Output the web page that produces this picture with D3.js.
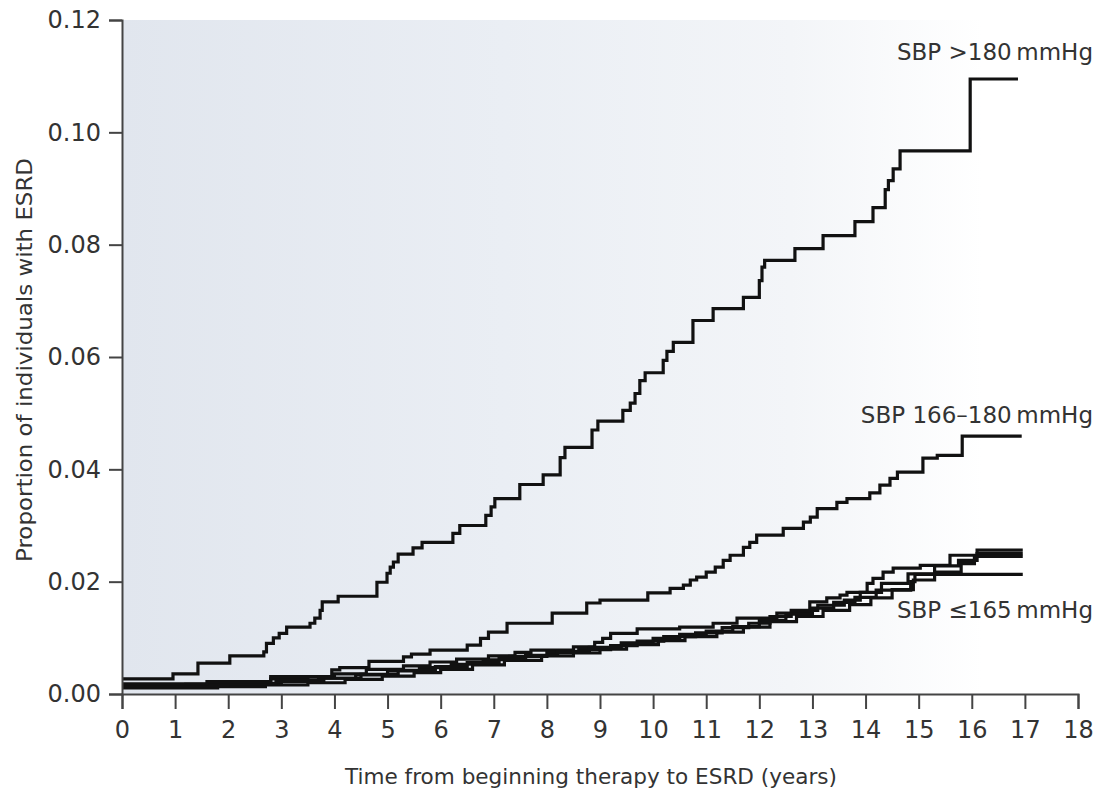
<!DOCTYPE html>
<html>
<head>
<meta charset="utf-8">
<script src="https://cdn.jsdelivr.net/npm/d3@7"></script>
<style>
  body { margin: 0; background: #fff; }
  text { font-family: "DejaVu Sans", sans-serif; fill: #333; }
</style>
</head>
<body>
<div id="chart"></div>
<script>
// step points [years, proportion]
var sbpOver180 = [[0,0.0027],[0.96,0.0036],[1.43,0.0055],[2.03,0.0068],[2.67,0.0075],[2.72,0.009],[2.85,0.010],[2.96,0.0108],[3.1,0.0119],[3.54,0.0126],[3.63,0.0135],[3.73,0.0149],[3.77,0.0164],[4.07,0.0174],[4.8,0.0199],[4.99,0.0215],[5.05,0.0226],[5.11,0.0235],[5.2,0.0249],[5.48,0.026],[5.65,0.027],[6.23,0.0286],[6.36,0.030],[6.85,0.0318],[6.95,0.0333],[7.02,0.0348],[7.49,0.0373],[7.93,0.039],[8.25,0.0421],[8.34,0.0439],[8.85,0.047],[8.96,0.0486],[9.43,0.0505],[9.57,0.0518],[9.66,0.0535],[9.75,0.0558],[9.85,0.0572],[10.19,0.0594],[10.26,0.061],[10.38,0.0626],[10.75,0.0665],[11.13,0.0686],[11.7,0.0706],[12.0,0.0736],[12.05,0.076],[12.1,0.0772],[12.67,0.0793],[13.2,0.0816],[13.8,0.0841],[14.14,0.0866],[14.37,0.0898],[14.43,0.0914],[14.52,0.0935],[14.65,0.0967],[15.97,0.1095],[16.87,0.1095]];

var sbp166to180 = [[0,0.0018],[1.6,0.0022],[2.8,0.0031],[3.95,0.0043],[4.1,0.0047],[4.65,0.0058],[5.3,0.0066],[5.45,0.0071],[5.8,0.0078],[6.5,0.0087],[6.75,0.0099],[6.9,0.011],[7.25,0.0126],[8.1,0.0144],[8.75,0.0162],[9.0,0.0167],[9.9,0.018],[10.32,0.0188],[10.57,0.0194],[10.7,0.0203],[10.82,0.0208],[11.0,0.0217],[11.17,0.0226],[11.32,0.0238],[11.45,0.0247],[11.7,0.0261],[11.82,0.027],[11.95,0.0283],[12.45,0.0295],[12.83,0.0306],[12.96,0.0315],[13.09,0.033],[13.46,0.0341],[13.65,0.0348],[14.08,0.0358],[14.27,0.0372],[14.46,0.0384],[14.6,0.0395],[15.08,0.042],[15.35,0.0425],[15.82,0.0459],[16.94,0.0459]];

var sbpUnder165a = [[0,0.0015],[1.2,0.0017],[2.0,0.0021],[2.8,0.0027],[3.5,0.003],[4.0,0.0036],[4.6,0.0044],[5.3,0.005],[5.8,0.0057],[6.3,0.0062],[6.9,0.0068],[7.4,0.0074],[7.7,0.0078],[8.5,0.0084],[8.9,0.0092],[9.05,0.0099],[9.2,0.0108],[9.7,0.0116],[10.5,0.0119],[11.13,0.0126],[11.58,0.0135],[12.33,0.0144],[12.95,0.0164],[13.27,0.0171],[13.52,0.0176],[13.65,0.0181],[14.03,0.0197],[14.14,0.0206],[14.33,0.0217],[14.52,0.0224],[15.03,0.0229],[15.59,0.0247],[16.1,0.0256],[16.96,0.0256]];

var sbpUnder165b = [[0,0.0013],[1.5,0.0015],[2.3,0.0019],[3.0,0.0024],[3.8,0.0028],[4.4,0.0034],[5.0,0.0041],[5.6,0.0047],[6.2,0.0053],[6.8,0.0061],[7.3,0.0067],[8.0,0.0074],[8.6,0.0079],[9.2,0.0086],[9.7,0.0094],[10.2,0.0102],[10.8,0.0109],[11.3,0.0118],[11.8,0.0126],[12.2,0.0138],[12.6,0.0149],[13.1,0.0158],[13.6,0.0167],[13.9,0.0181],[14.3,0.0197],[14.8,0.0214],[15.3,0.0228],[15.75,0.0238],[16.1,0.025],[16.96,0.025]];

var sbpUnder165c = [[0,0.0011],[1.8,0.0013],[2.7,0.0016],[3.5,0.002],[4.2,0.0026],[4.9,0.0032],[5.5,0.0038],[6.0,0.0044],[6.6,0.0052],[7.2,0.006],[7.9,0.0068],[8.5,0.0073],[9.0,0.008],[9.5,0.0088],[10.1,0.0095],[10.6,0.0102],[11.2,0.011],[11.7,0.0119],[12.2,0.0129],[12.7,0.0138],[13.2,0.0149],[13.7,0.0159],[14.1,0.0171],[14.5,0.0186],[14.9,0.0203],[15.3,0.0217],[15.8,0.0232],[16.05,0.0245],[16.96,0.0245]];

var sbpUnder165d = [[0,0.0014],[1.0,0.0015],[2.0,0.0018],[2.9,0.0022],[3.7,0.0028],[4.5,0.0035],[5.2,0.0042],[5.9,0.0049],[6.5,0.0056],[7.1,0.0063],[7.6,0.0069],[8.2,0.0076],[8.8,0.0083],[9.4,0.0091],[10.0,0.0099],[10.5,0.0106],[11.0,0.0112],[11.5,0.012],[12.0,0.0131],[12.5,0.0142],[13.0,0.0153],[13.4,0.0163],[13.8,0.0172],[14.2,0.0185],[14.85,0.02],[14.93,0.0213],[16.96,0.0213]];

var series = [sbpUnder165a, sbpUnder165b, sbpUnder165c, sbpUnder165d, sbp166to180, sbpOver180];

var xTicks = d3.range(0, 19);
var yTicks = [0, 0.02, 0.04, 0.06, 0.08, 0.10, 0.12];

var labels = [
  {text: "SBP >180\u2009mmHg", y: 0.1128},
  {text: "SBP 166\u2013180\u2009mmHg", y: 0.0482},
  {text: "SBP \u2264165\u2009mmHg", y: 0.0135}
];

var width = 1099,
    height = 792,
    margin = {top: 20, right: 21, bottom: 98, left: 122};

var svg = d3.select("#chart").append("svg")
    .attr("width", width)
    .attr("height", height);

var x = d3.scaleLinear().domain([0, 18]).range([margin.left, width - margin.right]);
var y = d3.scaleLinear().domain([0, 0.12]).range([height - margin.bottom, margin.top]);

// soft blue-grey wash fading to white on the right
var grad = svg.append("defs").append("linearGradient")
    .attr("id", "wash")
    .attr("x1", "0%").attr("x2", "100%").attr("y1", "0%").attr("y2", "0%");
grad.append("stop").attr("offset", "0%").attr("stop-color", "#e1e6ee");
grad.append("stop").attr("offset", "40%").attr("stop-color", "#eaeef4");
grad.append("stop").attr("offset", "70%").attr("stop-color", "#f3f5f8");
grad.append("stop").attr("offset", "90%").attr("stop-color", "#ffffff");

svg.append("rect")
    .attr("x", x(0))
    .attr("y", y(0.12))
    .attr("width", x(18) - x(0))
    .attr("height", y(0) - y(0.12))
    .attr("fill", "url(#wash)");

var line = d3.line()
    .x(function(d){ return x(d[0]) })
    .y(function(d){ return y(d[1]) })
    .curve(d3.curveStepAfter);

svg.selectAll("path.km")
    .data(series)
  .enter().append("path")
    .attr("class", "km")
    .attr("d", line)
    .attr("fill", "none")
    .attr("stroke", "#111")
    .attr("stroke-width", 3.2);

var xAxis = svg.append("g")
    .attr("transform", "translate(0," + y(0) + ")")
    .call(d3.axisBottom(x).tickValues(xTicks).tickFormat(d3.format("d")).tickSize(15).tickPadding(12));

var yAxis = svg.append("g")
    .attr("transform", "translate(" + x(0) + ",0)")
    .call(d3.axisLeft(y).tickValues(yTicks).tickFormat(d3.format(".2f")).tickSize(13).tickPadding(8));

[xAxis, yAxis].forEach(function(g){
  g.select(".domain").attr("stroke", "#444").attr("stroke-width", 2);
  g.selectAll(".tick line").attr("stroke", "#444").attr("stroke-width", 2);
  g.selectAll(".tick text").style("font-size", "24px").attr("fill", "#333");
});

svg.append("text")
    .attr("x", 591)
    .attr("y", 784)
    .attr("text-anchor", "middle")
    .attr("textLength", 492)
    .attr("lengthAdjust", "spacingAndGlyphs")
    .style("font-size", "21px")
    .text("Time from beginning therapy to ESRD (years)");

svg.append("text")
    .attr("transform", "translate(32,360) rotate(-90)")
    .attr("text-anchor", "middle")
    .attr("textLength", 404)
    .attr("lengthAdjust", "spacingAndGlyphs")
    .style("font-size", "21px")
    .text("Proportion of individuals with ESRD");

svg.selectAll("text.lab")
    .data(labels)
  .enter().append("text")
    .attr("class", "lab")
    .attr("x", 1093)
    .attr("y", function(d){ return y(d.y) })
    .attr("text-anchor", "end")
    .style("font-size", "23px")
    .text(function(d){ return d.text });
</script>
</body>
</html>
